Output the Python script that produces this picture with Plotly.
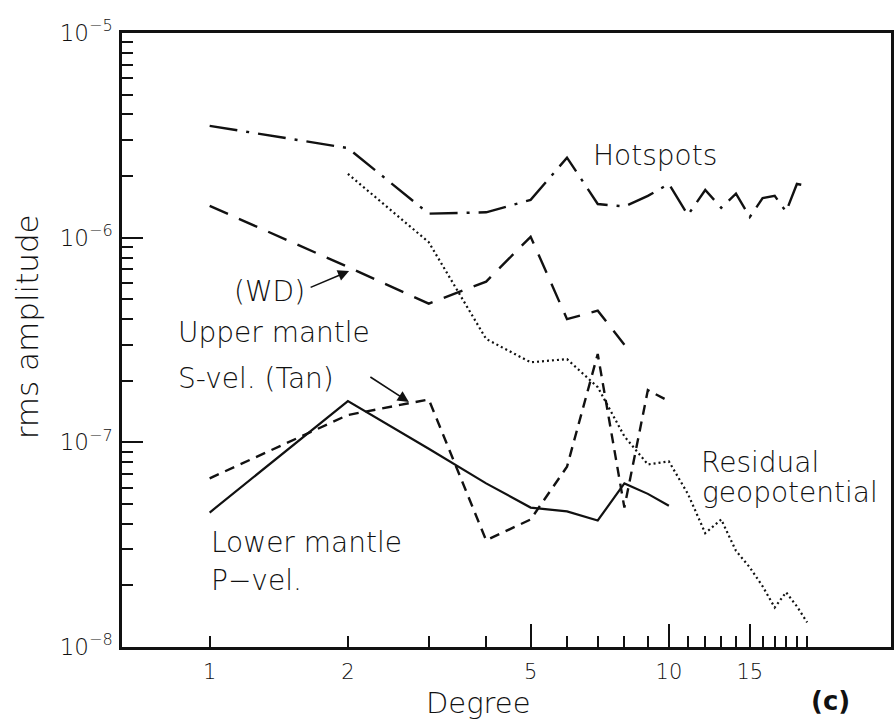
import plotly.graph_objects as go

# ---------------- data ----------------
deg_hot = list(range(1, 21))
hotspots = [3.52e-6, 2.74e-6, 1.31e-6, 1.33e-6, 1.53e-6, 2.46e-6, 1.46e-6, 1.42e-6,
            1.60e-6, 1.83e-6, 1.29e-6, 1.71e-6, 1.40e-6, 1.64e-6, 1.26e-6, 1.56e-6,
            1.60e-6, 1.34e-6, 1.83e-6, 1.79e-6]

deg_wd = list(range(1, 9))
upper_wd = [1.43e-6, 7.19e-7, 4.76e-7, 6.1e-7, 1.01e-6, 4.0e-7, 4.4e-7, 3.0e-7]

deg_tan = list(range(1, 11))
upper_tan = [6.67e-8, 1.36e-7, 1.62e-7, 3.32e-8, 4.2e-8, 7.6e-8, 2.70e-7, 4.8e-8,
             1.80e-7, 1.59e-7]

deg_p = list(range(1, 11))
lower_p = [4.54e-8, 1.59e-7, 9.3e-8, 6.3e-8, 4.8e-8, 4.6e-8, 4.15e-8, 6.3e-8,
           5.6e-8, 4.9e-8]

deg_geo = list(range(2, 21))
residual_geo = [2.05e-6, 9.5e-7, 3.2e-7, 2.46e-7, 2.55e-7, 1.86e-7, 1.07e-7, 7.8e-8,
                8.07e-8, 5.6e-8, 3.6e-8, 4.2e-8, 2.95e-8, 2.45e-8, 1.98e-8, 1.56e-8,
                1.85e-8, 1.58e-8, 1.32e-8]

x_label_vals = [1, 2, 5, 10, 15]
x_label_text = ["1", "2", "5", "10", "15"]
x_long_ticks = [5, 10, 15]
x_minor_ticks = [3, 4, 6, 7, 8, 9, 11, 12, 13, 14, 16, 17, 18, 19, 20]
y_major_vals = [1e-8, 1e-7, 1e-6, 1e-5]
y_major_exp = ["−8", "−7", "−6", "−5"]
y_minor_vals = [m * 10.0 ** e for e in (-8, -7, -6) for m in range(2, 10)]

FONT = "DejaVu Sans"
INK = "#111111"
y_major_text = ["10<sup>%s</sup>" % e for e in y_major_exp]

fig = go.Figure()
fig.add_trace(go.Scatter(x=deg_hot, y=hotspots, mode="lines",
                         line=dict(color=INK, width=2.4, dash="28px,9px,3px,9px")))
fig.add_trace(go.Scatter(x=deg_wd, y=upper_wd, mode="lines",
                         line=dict(color=INK, width=2.4, dash="20px,12px")))
fig.add_trace(go.Scatter(x=deg_tan, y=upper_tan, mode="lines",
                         line=dict(color=INK, width=2.4, dash="10px,7px")))
fig.add_trace(go.Scatter(x=deg_p, y=lower_p, mode="lines",
                         line=dict(color=INK, width=2.2)))
fig.add_trace(go.Scatter(x=deg_geo, y=residual_geo, mode="lines",
                         line=dict(color=INK, width=2.2, dash="2px,3px")))
# carrier for the long-tick overlay axis (no visible marks)
fig.add_trace(go.Scatter(x=[x_long_ticks[0]], y=[y_major_vals[0]], mode="markers",
                         marker=dict(opacity=0), xaxis="x2", hoverinfo="skip"))

xr = [-0.1909, 1.4837]
fig.update_layout(
    width=896, height=721,
    margin=dict(l=122, r=2, t=33, b=74),
    paper_bgcolor="white", plot_bgcolor="white",
    showlegend=False,
    font=dict(family=FONT, color=INK, size=20),
    xaxis=dict(type="log", range=xr, tickmode="array", tickvals=x_label_vals,
               ticktext=x_label_text, ticks="inside", ticklen=11, tickwidth=2,
               tickcolor=INK, showline=True, linewidth=2.5, linecolor=INK,
               mirror=True, showgrid=False, zeroline=False,
               tickfont=dict(size=21, family=FONT, color=INK, weight=300),
               ticklabelstandoff=4,
               minor=dict(tickmode="array", tickvals=x_minor_ticks, ticks="inside",
                          ticklen=11, tickwidth=2, tickcolor=INK, showgrid=False)),
    xaxis2=dict(type="log", range=xr, overlaying="x", anchor="y", side="bottom",
                tickmode="array", tickvals=x_long_ticks, ticks="inside", ticklen=23,
                tickwidth=2, tickcolor=INK, showticklabels=False, showline=False,
                showgrid=False, zeroline=False),
    yaxis=dict(type="log", range=[-8, -5], tickmode="array", tickvals=y_major_vals,
               ticktext=y_major_text, ticks="inside", ticklen=21, tickwidth=2,
               tickcolor=INK, showline=True, linewidth=2.5, linecolor=INK,
               mirror=True, showgrid=False, zeroline=False,
               tickfont=dict(size=23, family=FONT, color=INK, weight=300),
               ticklabelstandoff=2,
               minor=dict(tickmode="array", tickvals=y_minor_vals, ticks="inside",
                          ticklen=11, tickwidth=2, tickcolor=INK, showgrid=False)),
)

def px2paper(px, py):
    return (px - 122) / 772, 1 - (py - 33) / 614

ann = []
def text(s, px, py, size=28, xanchor="left", angle=0, bold=False):
    x, y = px2paper(px, py)
    ann.append(dict(text=s, x=x, y=y, xref="paper", yref="paper", showarrow=False,
                    xanchor=xanchor, yanchor="middle", textangle=angle,
                    font=dict(size=size, family=FONT, color=INK,
                              weight="bold" if bold else 300)))

def arrow(hx, hy, tx, ty):
    x, y = px2paper(hx, hy)
    ann.append(dict(text="", x=x, y=y, xref="paper", yref="paper", showarrow=True,
                    ax=tx - hx, ay=ty - hy, axref="pixel", ayref="pixel",
                    arrowhead=2, arrowsize=1.4, arrowwidth=1.6, arrowcolor=INK,
                    font=dict(size=12)))

text("Hotspots", 593, 155)
text("(WD)", 232, 291)
arrow(350, 271, 310, 288)
text("Upper mantle", 176, 332)
text("S-vel. (Tan)", 176, 378)
arrow(410, 402, 370, 376)
text("Lower mantle", 209, 542)
text("P−vel.", 209, 580)
text("Residual", 701, 462)
text("geopotential", 702, 492)
text("rms amplitude", 27, 327, size=31, xanchor="center", angle=-90)
text("Degree", 480, 703, size=29, xanchor="center")
text("(c)", 833, 701, size=26, xanchor="center", bold=True)
fig.update_layout(annotations=ann)

fig.write_html("out.html")
